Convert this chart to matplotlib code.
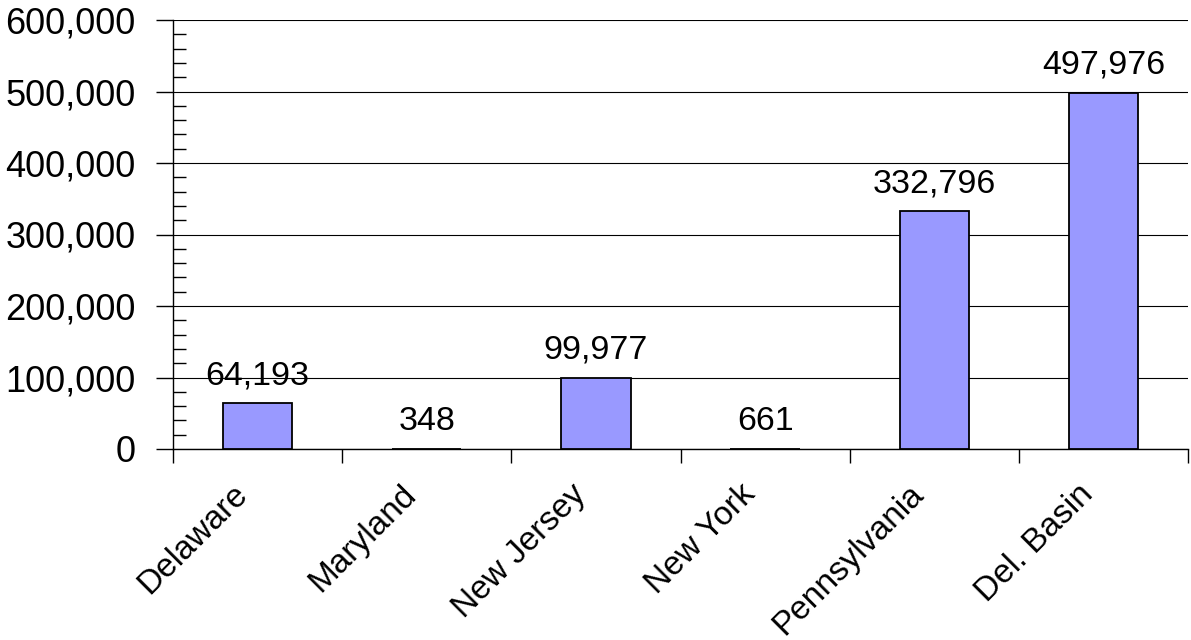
import matplotlib
matplotlib.use("Agg")
import matplotlib.pyplot as plt
from matplotlib.ticker import MultipleLocator, FuncFormatter

categories = ["Delaware", "Maryland", "New Jersey", "New York", "Pennsylvania", "Del. Basin"]
values = [64193, 348, 99977, 661, 332796, 497976]
yticks = [0, 100000, 200000, 300000, 400000, 500000, 600000]

plt.rcParams['font.family'] = ['Liberation Sans', 'DejaVu Sans']

fig = plt.figure(figsize=(11.91, 6.40), dpi=100)
ax = fig.add_axes([173/1191, 1-449/640, (1188-173)/1191, (449-20)/640])

x = list(range(len(categories)))
ax.bar(x, values, width=0.41, color='#9999FF', edgecolor='black', linewidth=1.3, zorder=3)

ax.set_xlim(-0.5, len(categories)-0.5)
ax.set_ylim(0, 600000)
ax.set_yticks(yticks)
ax.yaxis.set_major_formatter(FuncFormatter(lambda v, p: f"{int(v):,}"))
ax.yaxis.set_minor_locator(MultipleLocator(20000))
ax.grid(axis='y', which='major', color='black', linewidth=0.8, zorder=0)

ax.tick_params(axis='y', which='major', direction='out', length=12, width=1, labelsize=26, pad=15, color='black')
ax.tick_params(axis='y', which='minor', direction='in', length=9, width=1, color='black')

# category boundary ticks
ax.set_xticks([i - 0.5 for i in range(len(categories)+1)])
ax.set_xticklabels([])
ax.tick_params(axis='x', which='major', direction='out', length=10, width=1, color='black')

for i, lab in enumerate(categories):
    ax.annotate(lab, xy=(i, 0), xycoords=('data', 'data'), xytext=(-26, -30), textcoords='offset pixels',
                rotation=45, ha='right', va='top', rotation_mode='anchor', fontsize=24)

for i, v in enumerate(values):
    ax.annotate(f"{v:,}", xy=(i, v), xytext=(0, 12), textcoords='offset pixels',
                ha='center', va='bottom', fontsize=24.5)

for s in ['top', 'right']:
    ax.spines[s].set_visible(False)
ax.spines['left'].set_color('black')
ax.spines['bottom'].set_color('black')
ax.spines['left'].set_linewidth(1)
ax.spines['bottom'].set_linewidth(1)

fig.savefig("out.png", dpi=100)
